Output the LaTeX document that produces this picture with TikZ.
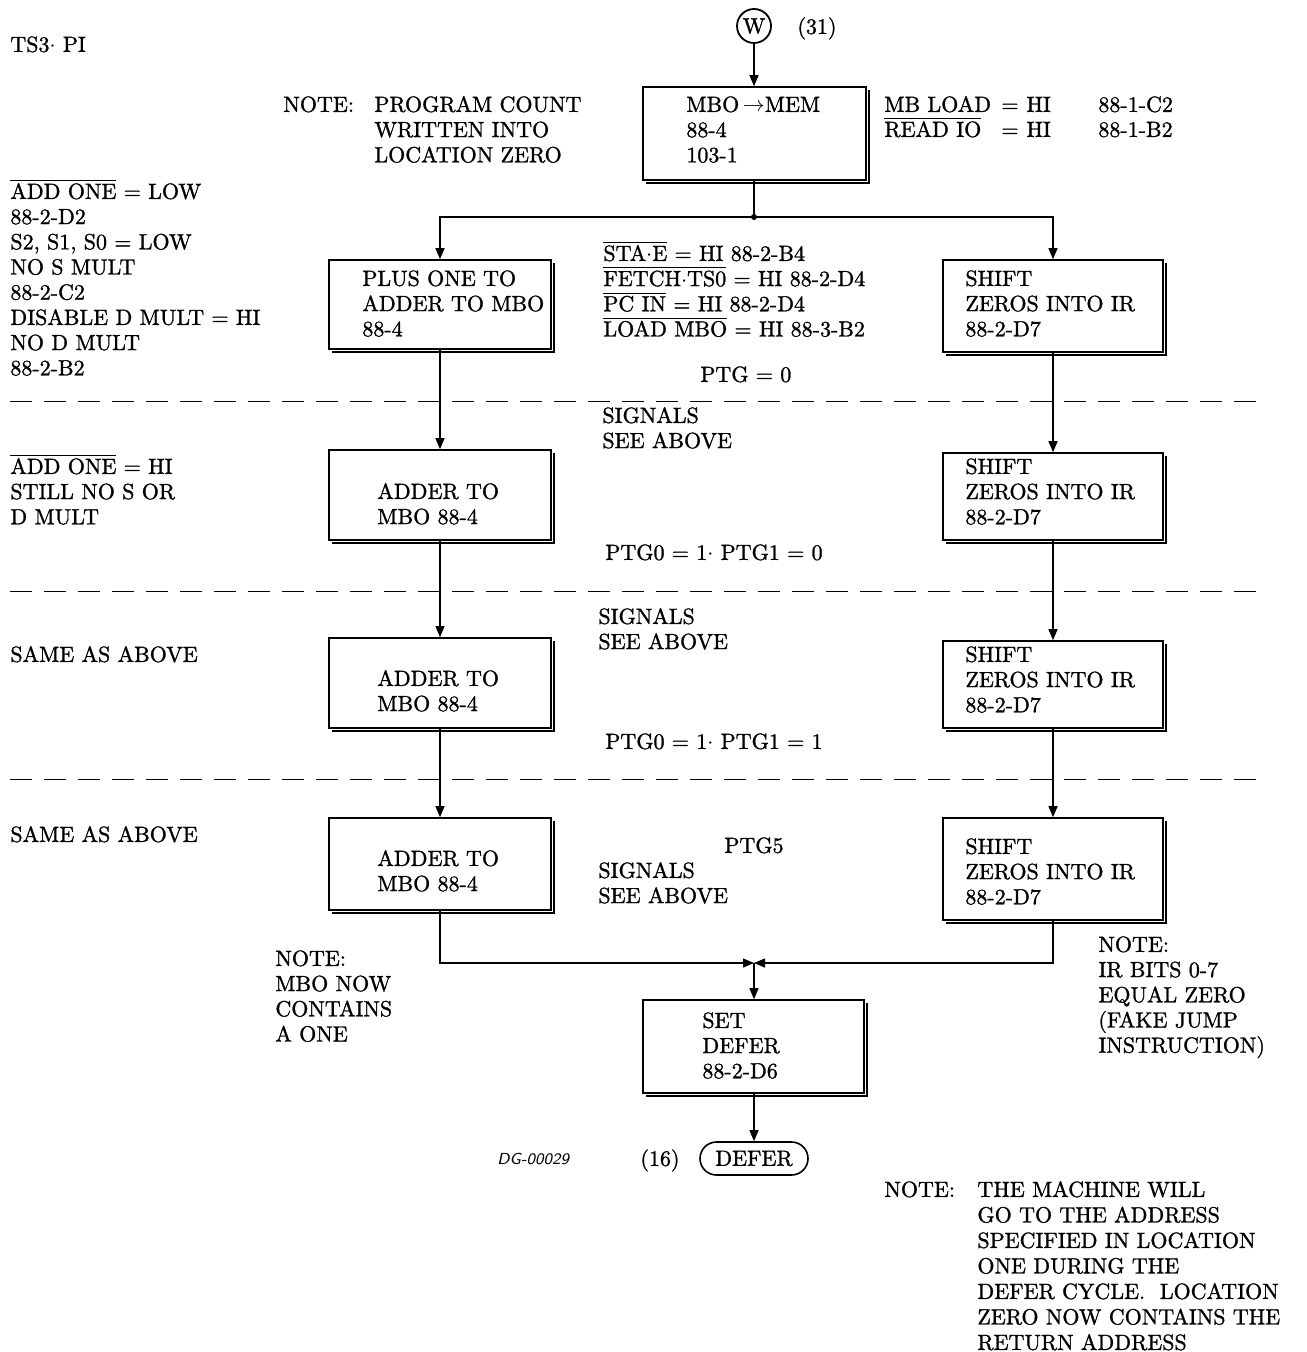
\documentclass[tikz,border=0pt]{standalone}
\usepackage{fontspec}
\setmainfont{lmroman10-regular.otf}[FakeBold=1.2]
\usetikzlibrary{arrows.meta,fit,calc}
\newcommand\fs{\fontsize{11}{12.6}\selectfont}
\newcommand\ol[1]{$\overline{\hbox{#1}}$}
\newcommand\st{\vrule height 10pt depth 0pt width 0pt\relax}
\begin{document}
\begin{tikzpicture}[x=0.5pt,y=-0.5pt,
  tx/.style={anchor=north west,inner sep=0pt,align=left,font=\fs,yshift=6.25pt},
  box/.style={draw,line width=0.8pt,inner sep=0pt},
  arr/.style={line width=0.6pt,-{Triangle[length=5.5pt,width=4.5pt]}},
  ln/.style={line width=0.6pt},
  dash line/.style={line width=0.5pt,dash pattern=on 11pt off 6pt},
  shade/.style={line width=1.1pt}]
\useasboundingbox (0,0) rectangle (1306,1352);
\newcommand\shadowof[1]{\draw[shade] ($(#1.north east)+(2,4)$) -- ($(#1.south east)+(2,2)$) -- ($(#1.south west)+(4,2)$);}

% ---- header
\node[tx] (ts3) at (10,44) {\st TS3$\cdot$ PI};
\node[draw,circle,line width=0.9pt,minimum size=17pt,inner sep=0pt,font=\fs] (w) at (754,26) {W};
\node[tx] (w31) at (797,26) {\st(31)};

% ---- boxes
\node[box,fit={(643,87) (866,180)}] (mbo) {};
\node[box,fit={(329,260) (551,349)}] (b1l) {};
\node[box,fit={(943,260) (1163,352)}] (b1r) {};
\node[box,fit={(329,450) (551,540)}] (b2l) {};
\node[box,fit={(943,453) (1163,540)}] (b2r) {};
\node[box,fit={(329,638) (551,728)}] (b3l) {};
\node[box,fit={(943,641) (1163,728)}] (b3r) {};
\node[box,fit={(329,818) (551,910)}] (b4l) {};
\node[box,fit={(943,818) (1163,920)}] (b4r) {};
\node[box,fit={(643,1000) (864,1093)}] (setd) {};
\foreach \b in {mbo,b1l,b1r,b2l,b2r,b3l,b3r,b4l,b4r,setd}{\shadowof{\b}}
\node[draw,line width=0.8pt,rounded corners=8.25pt,minimum width=54pt,minimum height=16.5pt,inner sep=0pt,font=\fs] (defer) at (754,1158.5) {DEFER};
\node[tx] (d16) at (640,1158) {\st(16)};

% ---- box texts
\node[tx] (tmbo) at (686,104) {\st MBO$\,\rightarrow$MEM\\88-4\\103-1};
\node[tx] (tb1l) at (362,278) {\st PLUS ONE TO\\ADDER TO MBO\\88-4};
\node[tx] (tb1r) at (965,278) {\st SHIFT\\ZEROS INTO IR\\88-2-D7};
\node[tx] (tb2l) at (377,491) {\st ADDER TO\\MBO 88-4};
\node[tx] (tb2r) at (965,466) {\st SHIFT\\ZEROS INTO IR\\88-2-D7};
\node[tx] (tb3l) at (377,678) {\st ADDER TO\\MBO 88-4};
\node[tx] (tb3r) at (965,654) {\st SHIFT\\ZEROS INTO IR\\88-2-D7};
\node[tx] (tb4l) at (377,858) {\st ADDER TO\\MBO 88-4};
\node[tx] (tb4r) at (965,846) {\st SHIFT\\ZEROS INTO IR\\88-2-D7};
\node[tx] (tsetd) at (702,1020) {\st SET\\DEFER\\88-2-D6};

% ---- side texts
\node[tx] (n1a) at (283,104) {\st NOTE:};
\node[tx] (n1b) at (374,104) {\st PROGRAM COUNT\\WRITTEN INTO\\LOCATION ZERO};
\node[tx] (mb1) at (884,104) {\st MB LOAD};
\node[tx] (mb2) at (884,129) {\st\ol{READ IO}};
\node[tx] (mb3) at (1001,104) {\st=};
\node[tx] (mb4) at (1001,129) {\st=};
\node[tx] (mb3h) at (1026,104) {\st HI};
\node[tx] (mb4h) at (1026,129) {\st HI};
\node[tx] (mb5) at (1098,104) {\st 88-1-C2};
\node[tx] (mb6) at (1098,129) {\st 88-1-B2};

\node[tx] (l1) at (10,191) {\st\ol{ADD ONE} = LOW\\88-2-D2\\S2, S1, S0 = LOW\\NO S MULT\\88-2-C2\\DISABLE D MULT = HI\\NO D MULT\\88-2-B2};
\node[tx] (m1) at (603,253) {\st\ol{STA$\cdot$E} = HI 88-2-B4\\\ol{FETCH$\cdot$TS0} = HI 88-2-D4\\\ol{PC IN} = HI 88-2-D4\\\ol{LOAD MBO} = HI 88-3-B2};
\node[tx] (p1) at (700,374) {\st PTG = 0};
\node[tx] (s2) at (602,415) {\st SIGNALS\\SEE ABOVE};
\node[tx] (l2) at (10,466) {\st\ol{ADD ONE} = HI\\STILL NO S OR\\D MULT};
\node[tx] (p2) at (605,552) {\st PTG0 = 1$\cdot$ PTG1 = 0};
\node[tx] (s3) at (598,616) {\st SIGNALS\\SEE ABOVE};
\node[tx] (l3) at (10,654) {\st SAME AS ABOVE};
\node[tx] (p3) at (605,741) {\st PTG0 = 1$\cdot$ PTG1 = 1};
\node[tx] (l4) at (10,834) {\st SAME AS ABOVE};
\node[tx] (p4) at (724,845) {\st PTG5};
\node[tx] (s4) at (598,870) {\st SIGNALS\\SEE ABOVE};
\node[tx] (n2) at (275,958) {\st NOTE:\\MBO NOW\\CONTAINS\\A ONE};
\node[tx] (n3) at (1098,944) {\st NOTE:\\IR BITS 0-7\\EQUAL ZERO\\(FAKE JUMP\\INSTRUCTION)};
\node[anchor=base west,inner sep=0pt,font=\fontsize{8}{10}\selectfont\sffamily\itshape] (dg) at (497,1164) {DG-00029};
\node[tx] (n4a) at (884,1189) {\st NOTE:};
\node[tx,font=\fontsize{11}{12.75}\selectfont] (n4b) at (977,1189) {\st THE MACHINE WILL\\GO TO THE ADDRESS\\SPECIFIED IN LOCATION\\ONE DURING THE\\DEFER CYCLE.\ \ LOCATION\\ZERO NOW CONTAINS THE\\RETURN ADDRESS};

% ---- dashed separators
\coordinate (d1a) at (10,402); \coordinate (d1b) at (1260,402);
\coordinate (d2a) at (10,591); \coordinate (d2b) at (1260,591);
\coordinate (d3a) at (10,779); \coordinate (d3b) at (1260,779);
\draw[dash line] (d1a) -- (d1b);
\draw[dash line] (d2a) -- (d2b);
\draw[dash line] (d3a) -- (d3b);

% ---- connectors
\coordinate (split) at (754,217);
\coordinate (join) at (754,963);
\draw[arr] (w.south) -- (w.south |- mbo.north);
\draw[ln] (mbo.south -| w.south) -- (split);
\fill (split) circle (3);
\draw[arr] (split) -| (b1l.north);
\draw[arr] (split) -| (b1r.north);
\draw[arr] (b1l.south) -- (b2l.north);
\draw[arr] (b2l.south) -- (b3l.north);
\draw[arr] (b3l.south) -- (b4l.north);
\draw[arr] (b1r.south) -- (b2r.north);
\draw[arr] (b2r.south) -- (b3r.north);
\draw[arr] (b3r.south) -- (b4r.north);
\draw[arr] (b4l.south) |- (join);
\draw[arr] (b4r.south) |- (join);
\draw[arr] (join) -- (join |- setd.north);
\draw[arr] (setd.south -| join) -- (defer.north);
\end{tikzpicture}
\end{document}
